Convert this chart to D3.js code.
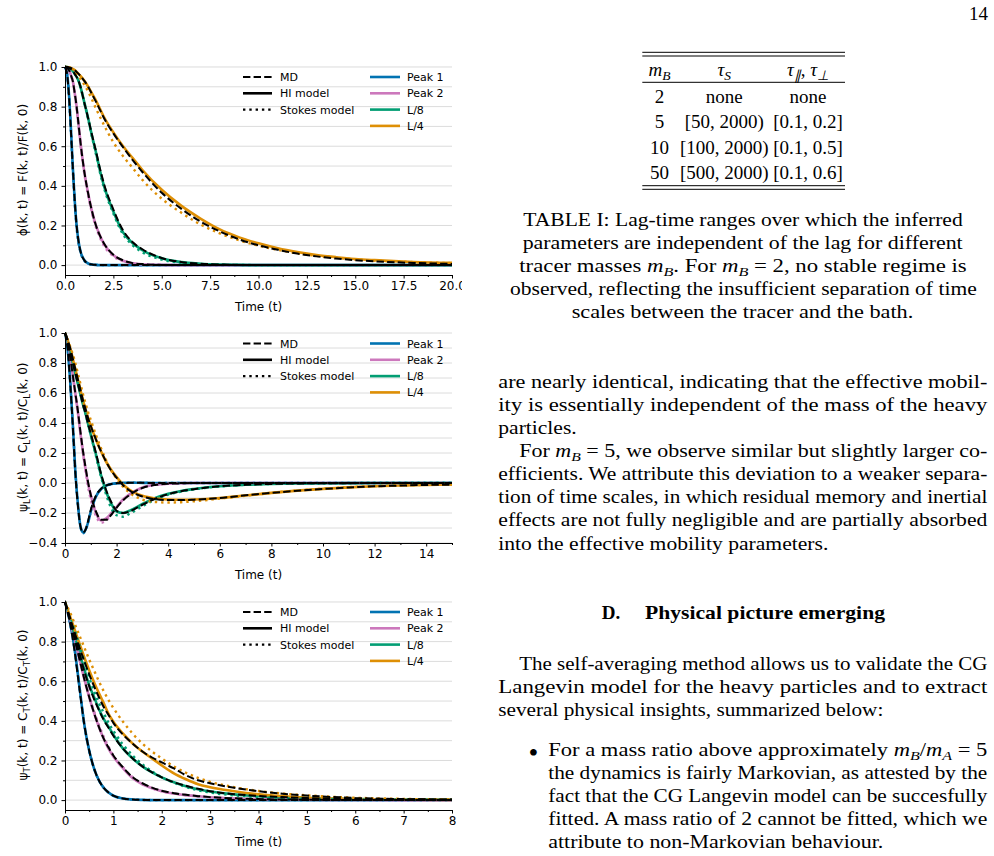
<!DOCTYPE html>
<html>
<head>
<meta charset="utf-8">
<script src="https://cdn.jsdelivr.net/npm/d3@7"></script>
<style>
  body { margin: 0; background: #fff; }
  svg { display: block; }
</style>
</head>
<body>
<script>
// series names and colours (same order in every row of the value arrays)
var seriesNames = ["Peak 1", "Peak 2", "L/8", "L/4"];
var seriesColors = ["#0173b2", "#cc78bc", "#029e73", "#de8f05"];

// ---- panel 1 : phi(k,t)
var phiTime = [0,0.1,0.2,0.3,0.4,0.5,0.6,0.7,0.8,1,1.2,1.4,1.6,1.8,2,2.5,3,3.5,4,5,6,7,8,9,10,11,12,13,14,15,16,18,20];
var phiHI = [
  [1,0.97,0.87,0.7,0.5,0.33,0.2,0.12,0.07,0.025,0.008,0.003,0.001,0,0,0,0,0,0,0,0,0,0,0,0,0,0,0,0,0,0,0,0],
  [1,0.995,0.985,0.96,0.93,0.87,0.8,0.71,0.62,0.47,0.36,0.27,0.2,0.15,0.11,0.05,0.022,0.009,0.004,0.001,0,0,0,0,0,0,0,0,0,0,0,0,0],
  [1,1,0.995,0.99,0.98,0.965,0.95,0.93,0.9,0.82,0.74,0.65,0.57,0.48,0.405,0.27,0.165,0.11,0.075,0.034,0.015,0.007,0.003,0.001,0,0,0,0,0,0,0,0,0],
  [1,1,0.998,0.995,0.99,0.985,0.975,0.965,0.955,0.93,0.9,0.865,0.83,0.79,0.75,0.67,0.6,0.54,0.48,0.38,0.3,0.235,0.18,0.14,0.11,0.085,0.066,0.051,0.04,0.031,0.025,0.016,0.011]
];
var phiMD = [
  [1,0.97,0.86,0.69,0.5,0.33,0.2,0.12,0.07,0.024,0.008,0.003,0.001,0,0,0,0,0,0,0,0,0,0,0,0,0,0,0,0,0,0,0,0],
  [1,0.995,0.985,0.96,0.93,0.87,0.8,0.71,0.62,0.47,0.36,0.27,0.2,0.15,0.112,0.052,0.024,0.01,0.005,0.001,0,0,0,0,0,0,0,0,0,0,0,0,0],
  [1,1,0.995,0.99,0.98,0.965,0.95,0.93,0.9,0.82,0.74,0.655,0.575,0.49,0.415,0.28,0.175,0.115,0.08,0.036,0.016,0.007,0.003,0.001,0,0,0,0,0,0,0,0,0],
  [1,1,0.998,0.995,0.99,0.985,0.975,0.965,0.955,0.93,0.9,0.862,0.825,0.785,0.745,0.665,0.595,0.53,0.47,0.365,0.285,0.22,0.17,0.13,0.1,0.077,0.058,0.044,0.033,0.025,0.019,0.011,0.006]
];
var phiStokes = [
  [1,0.97,0.86,0.69,0.49,0.32,0.19,0.11,0.065,0.022,0.007,0.002,0.001,0,0,0,0,0,0,0,0,0,0,0,0,0,0,0,0,0,0,0,0],
  [1,0.995,0.985,0.96,0.925,0.865,0.79,0.7,0.61,0.46,0.35,0.26,0.19,0.14,0.1,0.045,0.02,0.008,0.003,0.001,0,0,0,0,0,0,0,0,0,0,0,0,0],
  [1,1,0.995,0.99,0.98,0.965,0.95,0.93,0.9,0.82,0.735,0.645,0.56,0.47,0.395,0.26,0.155,0.1,0.065,0.028,0.011,0.005,0.002,0.001,0,0,0,0,0,0,0,0,0],
  [1,0.999,0.997,0.993,0.987,0.978,0.967,0.955,0.94,0.91,0.875,0.835,0.79,0.75,0.71,0.62,0.55,0.49,0.43,0.335,0.265,0.205,0.16,0.125,0.098,0.077,0.06,0.047,0.037,0.029,0.023,0.015,0.01]
];

// ---- panel 2 : psi_L(k,t)
var psiLTime = [0,0.1,0.2,0.3,0.4,0.5,0.6,0.7,0.8,0.9,1,1.2,1.4,1.6,1.8,2,2.25,2.5,3,3.5,4,4.5,5,6,7,8,9,10,11,12,13,14,15];
var psiLHI = [
  [1,0.9,0.68,0.4,0.08,-0.14,-0.29,-0.33,-0.31,-0.26,-0.19,-0.09,-0.04,-0.018,-0.007,-0.002,0.001,0.002,0.001,0,0,0,0,0,0,0,0,0,0,0,0,0,0],
  [1,0.95,0.84,0.72,0.6,0.47,0.33,0.2,0.09,-0.01,-0.08,-0.2,-0.25,-0.235,-0.2,-0.16,-0.11,-0.075,-0.03,-0.012,-0.004,-0.001,0,0,0,0,0,0,0,0,0,0,0],
  [1,0.95,0.88,0.8,0.73,0.66,0.59,0.52,0.46,0.39,0.32,0.19,0.05,-0.06,-0.14,-0.19,-0.2,-0.185,-0.14,-0.1,-0.072,-0.053,-0.04,-0.022,-0.012,-0.006,-0.003,-0.002,-0.001,0,0,0,0],
  [1,0.95,0.9,0.83,0.76,0.69,0.62,0.55,0.49,0.43,0.38,0.29,0.21,0.14,0.085,0.04,-0.01,-0.045,-0.085,-0.103,-0.11,-0.112,-0.11,-0.1,-0.083,-0.066,-0.051,-0.039,-0.029,-0.022,-0.017,-0.013,-0.01]
];
var psiLMD = [
  [1,0.9,0.67,0.39,0.07,-0.15,-0.29,-0.33,-0.31,-0.25,-0.18,-0.085,-0.038,-0.016,-0.006,-0.002,0,0.001,0.001,0,0,0,0,0,0,0,0,0,0,0,0,0,0],
  [1,0.95,0.84,0.72,0.6,0.48,0.34,0.21,0.1,0,-0.08,-0.19,-0.245,-0.245,-0.21,-0.165,-0.115,-0.08,-0.033,-0.013,-0.005,-0.002,0,0,0,0,0,0,0,0,0,0,0],
  [1,0.95,0.88,0.8,0.73,0.66,0.59,0.52,0.46,0.39,0.33,0.2,0.06,-0.05,-0.13,-0.185,-0.2,-0.19,-0.145,-0.105,-0.075,-0.055,-0.041,-0.022,-0.012,-0.006,-0.003,-0.002,-0.001,0,0,0,0],
  [1,0.95,0.9,0.83,0.76,0.69,0.62,0.55,0.49,0.43,0.38,0.29,0.21,0.14,0.08,0.035,-0.015,-0.05,-0.09,-0.108,-0.114,-0.114,-0.111,-0.1,-0.082,-0.066,-0.052,-0.04,-0.03,-0.022,-0.017,-0.013,-0.011]
];
var psiLStokes = [
  [1,0.9,0.68,0.4,0.08,-0.14,-0.29,-0.335,-0.315,-0.26,-0.19,-0.09,-0.04,-0.018,-0.007,-0.002,0.001,0.002,0.001,0,0,0,0,0,0,0,0,0,0,0,0,0,0],
  [1,0.95,0.84,0.72,0.6,0.47,0.33,0.2,0.08,-0.03,-0.11,-0.22,-0.265,-0.25,-0.21,-0.165,-0.115,-0.08,-0.032,-0.013,-0.005,-0.002,0,0,0,0,0,0,0,0,0,0,0],
  [1,0.95,0.88,0.81,0.74,0.67,0.6,0.53,0.46,0.39,0.32,0.18,0.04,-0.08,-0.17,-0.215,-0.225,-0.205,-0.155,-0.11,-0.078,-0.057,-0.042,-0.023,-0.012,-0.006,-0.003,-0.002,-0.001,0,0,0,0],
  [1,0.96,0.91,0.86,0.8,0.73,0.66,0.59,0.53,0.47,0.42,0.32,0.23,0.15,0.08,0.03,-0.025,-0.065,-0.11,-0.127,-0.13,-0.128,-0.122,-0.104,-0.085,-0.066,-0.05,-0.038,-0.028,-0.021,-0.016,-0.012,-0.01]
];

// ---- panel 3 : psi_T(k,t)
var psiTTime = [0,0.1,0.2,0.3,0.4,0.5,0.6,0.7,0.8,0.9,1,1.2,1.4,1.6,1.8,2,2.25,2.5,2.75,3,3.5,4,4.5,5,5.5,6,7,8];
var psiTHI = [
  [1,0.9,0.76,0.57,0.38,0.25,0.16,0.1,0.062,0.038,0.022,0.008,0.003,0.001,0,0,0,0,0,0,0,0,0,0,0,0,0,0],
  [1,0.91,0.81,0.71,0.61,0.52,0.44,0.37,0.31,0.26,0.22,0.16,0.11,0.08,0.06,0.045,0.033,0.025,0.019,0.014,0.008,0.005,0.003,0.002,0.001,0.001,0,0],
  [1,0.92,0.83,0.74,0.66,0.58,0.52,0.46,0.41,0.37,0.33,0.26,0.21,0.17,0.14,0.115,0.09,0.07,0.055,0.043,0.029,0.02,0.014,0.01,0.007,0.005,0.003,0.002],
  [1,0.93,0.86,0.79,0.72,0.655,0.595,0.54,0.49,0.435,0.395,0.335,0.285,0.245,0.21,0.175,0.135,0.105,0.08,0.065,0.045,0.029,0.02,0.012,0.008,0.005,0.002,0.001]
];
var psiTMD = [
  [1,0.9,0.75,0.56,0.38,0.25,0.16,0.1,0.062,0.038,0.022,0.008,0.003,0.001,0,0,0,0,0,0,0,0,0,0,0,0,0,0],
  [1,0.91,0.81,0.71,0.61,0.52,0.44,0.37,0.31,0.265,0.225,0.165,0.115,0.085,0.063,0.047,0.035,0.027,0.02,0.015,0.009,0.005,0.003,0.002,0.001,0.001,0,0],
  [1,0.92,0.83,0.74,0.65,0.575,0.51,0.455,0.405,0.365,0.325,0.26,0.21,0.17,0.14,0.115,0.09,0.072,0.057,0.045,0.03,0.021,0.015,0.01,0.007,0.005,0.003,0.002],
  [1,0.92,0.845,0.77,0.7,0.635,0.575,0.52,0.47,0.43,0.39,0.33,0.285,0.245,0.215,0.19,0.16,0.125,0.1,0.085,0.062,0.045,0.032,0.023,0.016,0.011,0.005,0.003]
];
var psiTStokes = [
  [1,0.9,0.76,0.57,0.38,0.25,0.16,0.1,0.062,0.038,0.022,0.008,0.003,0.001,0,0,0,0,0,0,0,0,0,0,0,0,0,0],
  [1,0.92,0.82,0.72,0.62,0.53,0.45,0.38,0.32,0.27,0.225,0.165,0.115,0.082,0.06,0.045,0.033,0.025,0.019,0.014,0.008,0.005,0.003,0.002,0.001,0.001,0,0],
  [1,0.93,0.86,0.78,0.7,0.62,0.55,0.49,0.44,0.39,0.35,0.28,0.225,0.18,0.145,0.115,0.088,0.066,0.05,0.038,0.024,0.015,0.01,0.007,0.005,0.003,0.002,0.001],
  [1,0.95,0.89,0.83,0.77,0.71,0.655,0.6,0.55,0.505,0.465,0.395,0.335,0.285,0.245,0.21,0.17,0.138,0.112,0.092,0.065,0.046,0.033,0.024,0.017,0.012,0.006,0.003]
];

// text of the page column on the right
var tableHeader = [[["m","i"],["B","s"]], [["τ","i"],["S","s"]], [["τ","i"],["∥","s"],[", "],["τ","i"],["⊥","s"]]];
var tableRows = [
  ["2", "none", "none"],
  ["5", "[50, 2000)", "[0.1, 0.2]"],
  ["10", "[100, 2000)", "[0.1, 0.5]"],
  ["50", "[500, 2000)", "[0.1, 0.6]"]
];
var captionLines = [
  [["TABLE I: Lag-time ranges over which the inferred"]],
  [["parameters are independent of the lag for different"]],
  [["tracer masses "],["m","i"],["B","s"],[". For "],["m","i"],["B","s"],[" = 2, no stable regime is"]],
  [["observed, reflecting the insufficient separation of time"]],
  [["scales between the tracer and the bath."]]
];
var para1Lines = [
  [["are nearly identical, indicating that the effective mobil-"]],
  [["ity is essentially independent of the mass of the heavy"]],
  [["particles."]],
  [["For "],["m","i"],["B","s"],[" = 5, we observe similar but slightly larger co-"]],
  [["efficients. We attribute this deviation to a weaker separa-"]],
  [["tion of time scales, in which residual memory and inertial"]],
  [["effects are not fully negligible and are partially absorbed"]],
  [["into the effective mobility parameters."]]
];
var para2Lines = [
  [["The self-averaging method allows us to validate the CG"]],
  [["Langevin model for the heavy particles and to extract"]],
  [["several physical insights, summarized below:"]]
];
var bulletLines = [
  [["For a mass ratio above approximately "],["m","i"],["B","s"],["/"],["m","i"],["A","s"],[" = 5"]],
  [["the dynamics is fairly Markovian, as attested by the"]],
  [["fact that the CG Langevin model can be succesfully"]],
  [["fitted. A mass ratio of 2 cannot be fitted, which we"]],
  [["attribute to non-Markovian behaviour."]]
];

var svg = d3.select("body").append("svg")
    .attr("width", 994)
    .attr("height", 856);

svg.append("rect").attr("width", 994).attr("height", 856).attr("fill", "#fff");

// ---------------- charts ----------------
svg.append("clipPath").attr("id", "figclip")
  .append("rect").attr("x", 0).attr("y", 0).attr("width", 462).attr("height", 856);

var fig = svg.append("g")
    .attr("clip-path", "url(#figclip)")
    .attr("font-family", "'DejaVu Sans', sans-serif");

var panels = [
  { top: 65, bottom: 275, xMax: 20, xStep: 2.5, xFmt: d3.format(".1f"), yMin: -0.05, gridFrom: 0,
    time: phiTime, hi: phiHI, md: phiMD, stokes: phiStokes,
    label: [["ϕ(k, t) = F(k, t)/F(k, 0)"]] },
  { top: 331.5, bottom: 543, xMax: 15, xStep: 2, xFmt: d3.format("d"), yMin: -0.4, gridFrom: -4,
    time: psiLTime, hi: psiLHI, md: psiLMD, stokes: psiLStokes,
    label: [["ψ"],["L",1],["(k, t) = C"],["L",1],["(k, t)/C"],["L",1],["(k, 0)"]] },
  { top: 600, bottom: 810, xMax: 8, xStep: 1, xFmt: d3.format("d"), yMin: -0.05, gridFrom: 0,
    time: psiTTime, hi: psiTHI, md: psiTMD, stokes: psiTStokes,
    label: [["ψ"],["T",1],["(k, t) = C"],["T",1],["(k, t)/C"],["T",1],["(k, 0)"]] }
];

panels.forEach(drawPanel);

function drawPanel(p) {
  var g = fig.append("g");
  var x = d3.scaleLinear().domain([0, p.xMax]).range([65, 452]);
  var y = d3.scaleLinear().domain([p.yMin, 1.01]).range([p.bottom, p.top]);

  // horizontal grid every 0.1
  var gridVals = d3.range(p.gridFrom, 11).map(function(i){ return i / 10; });
  g.selectAll(".grid").data(gridVals).enter().append("line")
    .attr("x1", 65).attr("x2", 452)
    .attr("y1", function(d){ return y(d); })
    .attr("y2", function(d){ return y(d); })
    .attr("stroke", "#dcdcdc").attr("stroke-width", 1);

  var line = d3.line()
    .defined(function(d){ return d[1] != null; })
    .x(function(d){ return x(d[0]); })
    .y(function(d){ return y(d[1]); })
    .curve(d3.curveMonotoneX);

  function pts(row) {
    return p.time.map(function(t, i){ return [t, row[i]]; });
  }

  p.hi.forEach(function(row, k){
    g.append("path").attr("d", line(pts(row))).attr("fill", "none")
      .attr("stroke", seriesColors[k]).attr("stroke-width", 2.6);
  });
  p.stokes.forEach(function(row, k){
    g.append("path").attr("d", line(pts(row))).attr("fill", "none")
      .attr("stroke", seriesColors[k]).attr("stroke-width", 2.4)
      .attr("stroke-dasharray", "2.4,3.9");
  });
  p.md.forEach(function(row){
    g.append("path").attr("d", line(pts(row))).attr("fill", "none")
      .attr("stroke", "#000").attr("stroke-width", 2)
      .attr("stroke-dasharray", "7.4,3.2");
  });

  // axes
  var yMajor = d3.range(p.gridFrom, 11, 2).map(function(i){ return i / 10; });
  var yMinor = d3.range(p.gridFrom + 1, 11, 2).map(function(i){ return i / 10; });
  var nMaj = Math.round(p.xMax / p.xStep);
  var xMajor = d3.range(0, nMaj + 1).map(function(i){ return i * p.xStep; });
  var xMinor = d3.range(0, nMaj).map(function(i){ return (i + 0.5) * p.xStep; });

  g.append("g").attr("transform", "translate(65,0)")
    .call(d3.axisLeft(y).tickValues(yMajor).tickFormat(d3.format(".1f"))
      .tickSize(3.5).tickPadding(4).tickSizeOuter(0));
  g.append("g").attr("transform", "translate(65,0)")
    .call(d3.axisLeft(y).tickValues(yMinor).tickFormat("").tickSize(2))
    .select(".domain").remove();
  g.append("g").attr("transform", "translate(0," + p.bottom + ")")
    .call(d3.axisBottom(x).tickValues(xMajor).tickFormat(p.xFmt)
      .tickSize(3.5).tickPadding(3).tickSizeOuter(0));
  g.append("g").attr("transform", "translate(0," + p.bottom + ")")
    .call(d3.axisBottom(x).tickValues(xMinor).tickFormat("").tickSize(2))
    .select(".domain").remove();

  g.selectAll(".tick text").attr("font-family", "'DejaVu Sans', sans-serif")
    .attr("font-size", 12).attr("fill", "#000");
  g.selectAll(".domain, .tick line").attr("stroke", "#000").attr("stroke-width", 1);

  g.append("text").attr("x", 258.5).attr("y", p.bottom + 36)
    .attr("text-anchor", "middle").attr("font-size", 12).text("Time (t)");

  var yl = g.append("text")
    .attr("transform", "translate(26.5," + ((p.top + p.bottom) / 2) + ") rotate(-90)")
    .attr("text-anchor", "middle").attr("font-size", 12);
  var shift = 0;
  p.label.forEach(function(part){
    var want = part[1] ? 3 : 0;
    var s = yl.append("tspan").text(part[0]);
    if (want !== shift) { s.attr("dy", want - shift); shift = want; }
    if (part[1]) s.attr("font-size", 8.5);
  });

  // legend
  var ly = p.top + 12;
  var styles = [
    { name: "MD", dash: "7.4,3.2", w: 2 },
    { name: "HI model", dash: null, w: 2.6 },
    { name: "Stokes model", dash: "2.4,3.9", w: 2.4 }
  ];
  styles.forEach(function(s, i){
    var yy = ly + i * 16.3;
    g.append("line").attr("x1", 243).attr("x2", 272).attr("y1", yy).attr("y2", yy)
      .attr("stroke", "#000").attr("stroke-width", s.w)
      .attr("stroke-dasharray", s.dash);
    g.append("text").attr("x", 280).attr("y", yy + 4).attr("font-size", 11).text(s.name);
  });
  seriesNames.forEach(function(n, i){
    var yy = ly + i * 16.3;
    g.append("line").attr("x1", 370).attr("x2", 400).attr("y1", yy).attr("y2", yy)
      .attr("stroke", seriesColors[i]).attr("stroke-width", 2.6);
    g.append("text").attr("x", 407).attr("y", yy + 4).attr("font-size", 11).text(n);
  });
}

// ---------------- right column text ----------------
var page = svg.append("g").attr("font-family", "'Liberation Serif', 'Times New Roman', serif")
    .attr("font-size", 19).attr("fill", "#000");

function writeParts(t, parts) {
  var shift = 0;
  parts.forEach(function(p){
    var want = p[1] === "s" ? 4 : 0;
    var s = t.append("tspan").text(p[0]);
    if (want !== shift) { s.attr("dy", want - shift); shift = want; }
    if (p[1] === "i" || p[1] === "s") s.attr("font-style", "italic");
    if (p[1] === "s") s.attr("font-size", 13.5);
  });
  return t;
}

function writeLine(parts, x0, x1, yb) {
  var t = page.append("text").attr("x", x0).attr("y", yb)
    .style("white-space", "pre")
    .attr("textLength", x1 - x0).attr("lengthAdjust", "spacingAndGlyphs");
  return writeParts(t, parts);
}

function writeCentered(parts, cx, yb) {
  var t = page.append("text").attr("x", cx).attr("y", yb)
    .style("white-space", "pre").attr("text-anchor", "middle");
  return writeParts(t, parts);
}

page.append("text").attr("x", 988).attr("y", 19.5).attr("text-anchor", "end").text("14");

// table
[52.3, 56, 82.3, 185.7, 189.3].forEach(function(yy){
  page.append("line").attr("x1", 642.3).attr("x2", 845).attr("y1", yy).attr("y2", yy)
    .attr("stroke", "#000").attr("stroke-width", 1);
});
var colX = [659.5, 724.3, 808];
tableHeader.forEach(function(h, i){ writeCentered(h, colX[i], 76); });
var rowY = [103.3, 128.3, 153.8, 179];
tableRows.forEach(function(r, j){
  r.forEach(function(c, i){ writeCentered([[c]], colX[i], rowY[j]); });
});

// caption
var capPos = [[523.3, 962.7], [522.7, 962.7], [519.3, 966.7], [510, 976.7], [571.7, 913.3]];
captionLines.forEach(function(l, i){
  writeLine(l, capPos[i][0], capPos[i][1], 225.5 + i * 23.05);
});

// first paragraph
var p1Pos = [[498.3, 987.3], [498.3, 987.3], [498.3, 576.7], [519.3, 987.3],
             [498.3, 987.3], [498.3, 987.3], [498.3, 987.3], [498.3, 828.3]];
para1Lines.forEach(function(l, i){
  writeLine(l, p1Pos[i][0], p1Pos[i][1], 387.5 + i * 23.15);
});

// heading
page.append("text").attr("x", 601.7).attr("y", 619).attr("font-weight", "bold").text("D.");
page.append("text").attr("x", 645).attr("y", 619).attr("font-weight", "bold")
  .attr("textLength", 240).attr("lengthAdjust", "spacingAndGlyphs")
  .text("Physical picture emerging");

// second paragraph
var p2Pos = [[519.3, 987.3], [498.3, 987.3], [498.3, 883.3]];
para2Lines.forEach(function(l, i){
  writeLine(l, p2Pos[i][0], p2Pos[i][1], 669.5 + i * 23.05);
});

// bullet item
page.append("text").attr("x", 528.6).attr("y", 762).attr("font-size", 28).text("•");
bulletLines.forEach(function(l, i){
  var x1 = i === bulletLines.length - 1 ? 883.3 : 987.3;
  writeLine(l, 548.3, x1, 756 + i * 23.05);
});
</script>
</body>
</html>
